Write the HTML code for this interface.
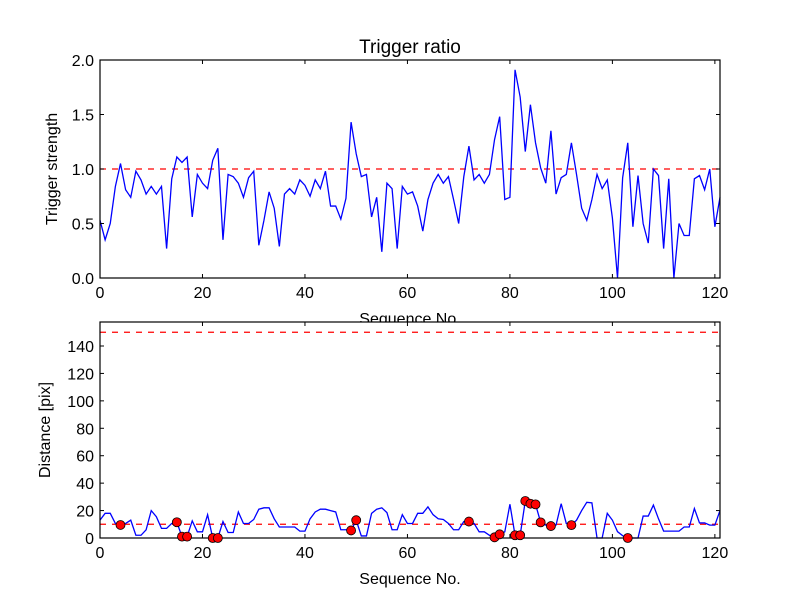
<!DOCTYPE html>
<html><head><meta charset="utf-8"><style>
body{margin:0;background:#fff;}
svg text{font-family:"Liberation Sans","DejaVu Sans",sans-serif;fill:#000;}
</style></head><body>
<svg id="c" width="800" height="600" xmlns="http://www.w3.org/2000/svg"></svg>
<script>
const strength=[0.53,0.35,0.50,0.84,1.05,0.81,0.74,0.98,0.90,0.77,0.84,0.77,0.84,0.27,0.91,1.11,1.06,1.11,0.56,0.95,0.87,0.82,1.08,1.19,0.35,0.95,0.93,0.87,0.74,0.92,0.98,0.30,0.53,0.79,0.64,0.29,0.77,0.82,0.77,0.90,0.85,0.75,0.90,0.82,0.98,0.66,0.66,0.54,0.73,1.43,1.14,0.93,0.95,0.56,0.74,0.24,0.87,0.82,0.27,0.84,0.77,0.79,0.66,0.43,0.72,0.87,0.95,0.87,0.93,0.72,0.50,0.93,1.21,0.90,0.95,0.87,0.95,1.27,1.48,0.72,0.74,1.91,1.66,1.16,1.59,1.24,1.01,0.87,1.35,0.77,0.92,0.95,1.24,0.95,0.64,0.53,0.72,0.95,0.82,0.90,0.55,0,0.92,1.24,0.47,0.94,0.50,0.32,1.00,0.94,0.27,0.91,0,0.50,0.39,0.39,0.91,0.94,0.81,1.00,0.47,0.74];
const distance=[13,18,18,10.6,9.5,10.6,13,2,2,6,20,15.5,7,7,10.6,11.5,1,1,12.5,4.5,4.5,17,0,0,12,4,4,19,10.6,10.6,13.5,21,22,22,14,8,8,8,8,5,5,14,19,21,21,20,19,6,6,5.5,13,1.5,1.5,18,21,22,18.5,6,6,17,10.6,10.6,18,18,22.7,17,14,13.5,10.6,6,6,12,12,10.6,4.5,4.5,2,0.5,2.7,4.5,24.6,2,2,27,25,24.5,11.4,9.4,8.7,9.4,25,10.6,9.4,13,20,26,25.6,0,0,18,13,4.6,1.7,0,0,0,16,16,24,14,5,5,5,5,8,8,21.5,11,11,9.4,9.4,20];
const dotIdx=[4,15,16,17,22,23,49,50,72,77,78,81,82,83,84,85,86,88,92,103];
const xTicks=[0,20,40,60,80,100,120];
const topTicks=[0.0,0.5,1.0,1.5,2.0];
const botTicks=[0,20,40,60,80,100,120,140];
const threshTop=1.0, threshLow=10, threshHigh=150;

const NS="http://www.w3.org/2000/svg";
const svg=document.getElementById('c');
function mk(t,a,p){const e=document.createElementNS(NS,t);for(const k in a)e.setAttribute(k,a[k]);(p||svg).appendChild(e);return e;}
const L=100,R=720,XMAX=121;
const xs=v=>L+(R-L)*v/XMAX;

function panel(name,top,bot,ymax,vals,ticks,fmt,ylabel,title,dashes,ylx){
  const ys=v=>bot-(bot-top)*v/ymax;
  const g=mk('g',{});
  
  
  mk('rect',{x:L,y:top,width:R-L,height:bot-top,fill:'#fff'},g);
  dashes.forEach(d=>{const ln=mk('line',{x1:L,x2:R,y1:ys(d),y2:ys(d),stroke:'#f00','stroke-width':1.3,'stroke-dasharray':'6,6'},g);
    
    });
  const pl=mk('polyline',{points:vals.map((v,i)=>xs(i)+','+ys(v)).join(' '),fill:'none',stroke:'#00f','stroke-width':1.3},g);
  
  
  xTicks.forEach(t=>{const x=xs(t);
    mk('line',{x1:x,x2:x,y1:bot,y2:bot-4,stroke:'#000'},g);
    mk('line',{x1:x,x2:x,y1:top,y2:top+4,stroke:'#000'},g);
    const tx=mk('text',{x:x,y:bot+20,'text-anchor':'middle','font-size':16},g);tx.textContent=t;
    
    });
  ticks.forEach(t=>{const y=ys(t);
    mk('line',{x1:L,x2:L+4,y1:y,y2:y,stroke:'#000'},g);
    mk('line',{x1:R,x2:R-4,y1:y,y2:y,stroke:'#000'},g);
    const tx=mk('text',{x:L-6,y:y+6,'text-anchor':'end','font-size':16},g);tx.textContent=fmt(t);
    
    });
  mk('rect',{x:L,y:top,width:R-L,height:bot-top,fill:'none',stroke:'#000','stroke-width':1.2},g);
  const xl=mk('text',{x:(L+R)/2,y:bot+46,'text-anchor':'middle','font-size':16},g);xl.textContent='Sequence No.';
  
  
  const cy=(top+bot)/2;
  const yl=mk('text',{x:0,y:0,'text-anchor':'middle','font-size':16,transform:`translate(${ylx},${cy}) rotate(-90)`},g);yl.textContent=ylabel;
  
  
  if(title){const tt=mk('text',{x:(L+R)/2,y:top-7,'text-anchor':'middle','font-size':19},g);tt.textContent=title;
    
    }
  return {g,ys};
}
panel('top-panel',60,278,2.0,strength,topTicks,t=>t.toFixed(1),'Trigger strength','Trigger ratio',[threshTop],57);
const b=panel('bottom-panel',322,538,157.5,distance,botTicks,t=>String(t),'Distance [pix]',null,[threshLow,threshHigh],50);
dotIdx.forEach(i=>{const c=mk('circle',{cx:xs(i),cy:b.ys(distance[i]),r:4.5,fill:'#f00',stroke:'#000','stroke-width':0.8},b.g);
  
  });
</script>
</body></html>
